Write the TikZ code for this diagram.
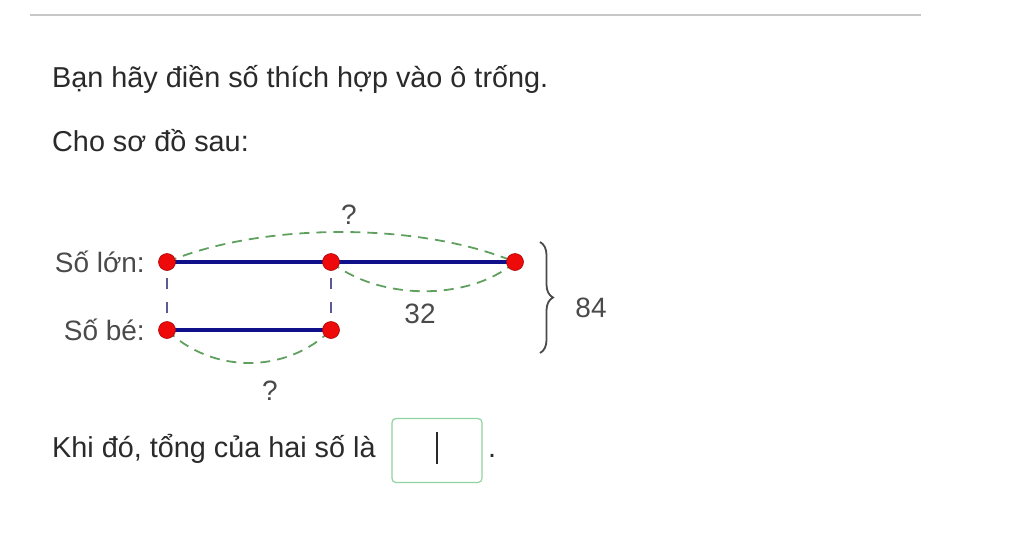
\documentclass[tikz,border=0pt]{standalone}
\usepackage{fontspec}
\setmainfont{Liberation Sans}
\usetikzlibrary{decorations.pathreplacing}
\definecolor{txt}{HTML}{2A2A2A}
\definecolor{navy}{HTML}{10108A}
\definecolor{arcgreen}{HTML}{5FA05F}
\definecolor{dotred}{HTML}{EE0A0A}
\definecolor{boxgreen}{HTML}{8FD3A0}
\definecolor{guidecol}{HTML}{5A5A9A}
\tikzset{
  body/.style={anchor=base west, inner sep=0pt, text=txt, font=\fontsize{28.8}{32}\selectfont},
  lab/.style={inner sep=0pt, text=txt!85, font=\fontsize{28}{32}\selectfont},
  dot/.style={circle, fill=dotred, draw=dotred!70!black, line width=0.6pt, minimum size=17pt, inner sep=0pt},
  seg/.style={navy, line width=4pt},
  guide/.style={guidecol, dash pattern=on 11pt off 13pt, dash phase=8pt, line width=1.3pt},
  arc/.style={arcgreen, dash pattern=on 10pt off 7pt, line width=1.8pt},
}
\begin{document}
\begin{tikzpicture}[x=1pt,y=-1pt]
\useasboundingbox (0,0) rectangle (1024,557);
\coordinate (hl) at (30,15);
\coordinate (hr) at (921,15);
\draw[black!22, line width=1.5pt] (hl) -- (hr);

\node[body] (t1) at (52,87) {Bạn hãy điền số thích hợp vào ô trống.};
\node[body] (t2) at (52,151) {Cho sơ đồ sau:};

\node[lab, anchor=east] (lon) at (145,262) {Số lớn:};
\node[lab, anchor=east] (be) at (145,330) {Số bé:};

\coordinate (A) at (167,262);
\coordinate (B) at (331,262);
\coordinate (C) at (515,262);
\coordinate (D) at (167,330);
\coordinate (E) at (331,330);

\draw[guide] (A) -- (D);
\draw[guide] (B) -- (E);
\draw[arc] (A) .. controls (262,222) and (420,222) .. (C);
\draw[arc] (B) .. controls (380,301) and (470,301) .. (C);
\draw[arc] (D) .. controls (212,374) and (286,374) .. (E);
\draw[seg] (A) -- (C);
\draw[seg] (D) -- (E);
\node[dot] (dA) at (A) {};
\node[dot] (dB) at (B) {};
\node[dot] (dC) at (C) {};
\node[dot] (dD) at (D) {};
\node[dot] (dE) at (E) {};

\node[lab] (q1) at (349,215) {?};
\node[lab] (q2) at (270,391) {?};
\node[lab] (n32) at (420,314) {32};

\coordinate (br1) at (540,242);
\coordinate (br2) at (540,353);
\draw[txt!85, line width=1.8pt, decorate, decoration={brace, amplitude=13pt}] (br1) -- (br2);
\node[lab] (n84) at (591,308) {84};

\node[body] (t3) at (52,457) {Khi đó, tổng của hai số là};
\node[draw=boxgreen, line width=1.2pt, rounded corners=4pt, minimum width=90pt, minimum height=64pt, inner sep=0pt] (box) at (437,450.5) {};
\coordinate (cu1) at (437,432);
\coordinate (cu2) at (437,464);
\draw[txt, line width=1.3pt] (cu1) -- (cu2);
\node[body] (dotend) at (488,457) {.};
\end{tikzpicture}
\end{document}
